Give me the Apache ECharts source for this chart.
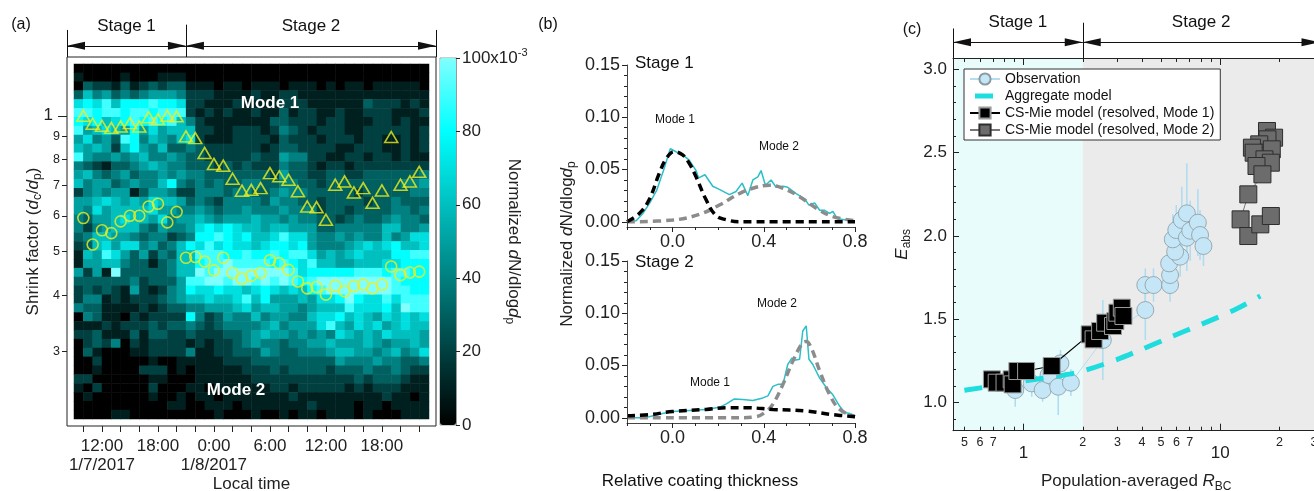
<!DOCTYPE html>
<html>
<head>
<meta charset="utf-8">
<title>Shrink factor, coating thickness and Eabs</title>
<script src="https://cdn.jsdelivr.net/npm/echarts@6.0.0/dist/echarts.min.js"></script>
<style>
  html, body { margin: 0; padding: 0; background: #fff; }
  #chart { width: 1314px; height: 491px; }
</style>
</head>
<body>
<div id="chart"></div>
<script>
var FONT = '"Liberation Sans", Arial, Helvetica, sans-serif';

// ---------------- (a) shrink factor map ----------------
// hour of day counted from 1/7/2017 0:00, start of each heatmap column
var heatHours = [9, 10, 11, 12, 13, 14, 15, 16, 17, 18, 19, 20, 21, 22, 23, 24, 25, 26, 27,
  28, 29, 30, 31, 32, 33, 34, 35, 36, 37, 38, 39, 40, 41, 42, 43, 44, 45, 46];
// normalized dN/dlogdp in steps of 10x10^-3 (a = 100), one row per shrink factor bin, top row first
var heatLevels = [
  '00000000000000000000000000000000000000',
  '10000100011100000000000000000000000000',
  '03221312323311101101110111010110111110',
  '36453434555422211112112211111111111111',
  '78796888988722111211112221111113222121',
  '99899899899921212112113122112112221112',
  '87867898989642111111133222122111221211',
  '95676585756662211222124321222112222212',
  '57453984654672111222213222122212211212',
  '65652685463343222222123322221122211212',
  '95445456445433222223225442211221221211',
  '43213345654433323232224332122122222222',
  '56434534454544333333325332233223333334',
  '64553454468434343344334433233333333445',
  '24545513554224443443345443333323333344',
  '55676565766534324444354433233332334333',
  '54756666755445434454445444233233334434',
  '43556766574556545556554544332343345443',
  '42456664354457878766566555334444466445',
  '34665543442348898786679775445454464577',
  '23675774534687978776788785444567678667',
  '16597535243669998898898997565676668899',
  '1556643313466899a999989879665566677888',
  '5251a33333466a9aaaaaaaa978888899989988',
  '33333342333599aa9aa9a9a989aaaaaaaa9888',
  '232321521245877877678767689aaaaaaa9988',
  '24412122234566766796855565778a87797999',
  '43311112123344555675665545666977786a99',
  '04311021222284235446455446778676576767',
  '11121222323343234444564555796576756766',
  '22311131332232223345655454547656576665',
  '02324021222212122345443445565556545565',
  '03100011222241122333543344456655456457',
  '00200000100111112223333333335444544334',
  '00100002220101111122232333323334334322',
  '22000000110001111112222222222232333211',
  '10200000200011011111122122222121222111',
  '01000000100101101111111211111111121101',
  '00000000001100111011111112111101101111',
  '00001100000000010001001011011101000111'
];
var modeHours = [10, 11, 12, 13, 14, 15, 16, 17, 18, 19, 20, 21, 22, 23, 24, 25, 26, 27, 28,
  29, 30, 31, 32, 33, 34, 35, 36, 37, 38, 39, 40, 41, 42, 43, 44, 45, 46];
var mode1Shrink = [1.00, 0.96, 0.95, 0.94, 0.947, 0.963, 0.947, 0.993, 0.983, 1.00, 0.997, 0.90,
  0.892, 0.827, 0.782, 0.775, 0.725, 0.682, 0.685, 0.691, 0.746, 0.734, 0.721, 0.680, 0.629,
  0.627, 0.588, 0.703, 0.715, 0.676, 0.691, 0.641, 0.683, 0.897, 0.703, 0.715, 0.751];
var mode2Shrink = [0.593, 0.518, 0.557, 0.549, 0.583, 0.600, 0.600, 0.629, 0.638, 0.580, 0.612,
  0.484, 0.486, 0.475, 0.454, 0.484, 0.448, 0.435, 0.442, 0.448, 0.478, 0.471, 0.455, 0.429,
  0.414, 0.417, 0.401, 0.420, 0.408, 0.419, 0.422, 0.414, 0.422, 0.463, 0.443, 0.449, 0.451];
var stageSplitHour = 21;
var timeTicks = [10, 12, 14, 16, 18, 20, 22, 24, 26, 28, 30, 32, 34, 36, 38, 40, 42, 44, 46];
var timeLabelHours = [12, 18, 24, 30, 36, 42];
var timeLabelDates = { 12: '1/7/2017', 24: '1/8/2017' };
var shrinkMajorTicks = [1];
var shrinkMinorTicks = [0.3, 0.4, 0.5, 0.6, 0.7, 0.8, 0.9];
var colorbarTicks = [0, 20, 40, 60, 80, 100];

// ---------------- (b) coating thickness distributions ----------------
var s1Observed = [[-0.20, 0.000], [-0.16, 0.001], [-0.13, 0.008], [-0.10, 0.018], [-0.07, 0.030],
  [-0.04, 0.049], [-0.01, 0.070], [0.015, 0.067], [0.044, 0.064], [0.073, 0.059], [0.103, 0.049],
  [0.114, 0.042], [0.142, 0.045], [0.176, 0.034], [0.205, 0.031], [0.249, 0.026], [0.278, 0.029],
  [0.305, 0.037], [0.330, 0.025], [0.352, 0.040], [0.374, 0.043], [0.388, 0.049], [0.407, 0.035],
  [0.432, 0.040], [0.454, 0.033], [0.484, 0.034], [0.505, 0.033], [0.542, 0.027], [0.579, 0.022],
  [0.598, 0.016], [0.623, 0.018], [0.645, 0.011], [0.667, 0.011], [0.689, 0.008], [0.703, 0.010],
  [0.722, 0.003], [0.755, 0.002], [0.80, 0.000]];
var s1Mode1Fit = [[-0.20, 0.000], [-0.146, 0.008], [-0.103, 0.021], [-0.059, 0.046], [-0.029, 0.060],
  [0.007, 0.067], [0.044, 0.064], [0.073, 0.056], [0.103, 0.043], [0.147, 0.021], [0.19, 0.006],
  [0.234, 0.002], [0.293, 0.000], [0.80, 0.000]];
var s1Mode2Fit = [[-0.20, 0.000], [0.0, 0.0016], [0.117, 0.007], [0.205, 0.016], [0.293, 0.027],
  [0.366, 0.033], [0.425, 0.035], [0.484, 0.032], [0.557, 0.024], [0.63, 0.013], [0.703, 0.005],
  [0.80, 0.001]];
var s2Observed = [[-0.20, 0.000], [-0.146, 0.000], [-0.103, 0.001], [-0.044, 0.004], [0.0, 0.006],
  [0.073, 0.007], [0.147, 0.008], [0.205, 0.010], [0.234, 0.013], [0.271, 0.018], [0.308, 0.0175],
  [0.352, 0.0166], [0.396, 0.019], [0.418, 0.021], [0.44, 0.030], [0.462, 0.032], [0.484, 0.032],
  [0.505, 0.051], [0.523, 0.057], [0.535, 0.055], [0.557, 0.056], [0.571, 0.083], [0.586, 0.088],
  [0.598, 0.056], [0.615, 0.051], [0.645, 0.038], [0.674, 0.029], [0.703, 0.022], [0.733, 0.011],
  [0.755, 0.005], [0.777, 0.004], [0.80, 0.002]];
var s2Mode1Fit = [[-0.20, 0.002], [-0.10, 0.003], [0.0, 0.006], [0.147, 0.008], [0.234, 0.0096],
  [0.322, 0.0096], [0.44, 0.008], [0.586, 0.0064], [0.703, 0.003], [0.80, 0.001]];
var s2Mode2Fit = [[-0.20, 0.000], [0.293, 0.000], [0.366, 0.001], [0.41, 0.006], [0.44, 0.013],
  [0.484, 0.032], [0.527, 0.054], [0.571, 0.072], [0.586, 0.073], [0.608, 0.067], [0.645, 0.045],
  [0.689, 0.022], [0.733, 0.008], [0.80, 0.001]];
var coatMajorTicks = [0, 0.4, 0.8];
var coatMinorTicks = [-0.2, -0.1, 0.1, 0.2, 0.3, 0.5, 0.6, 0.7];
var dndMajorTicks = [0, 0.05, 0.10, 0.15];
var dndMinorTicks = [0.01, 0.02, 0.03, 0.04, 0.06, 0.07, 0.08, 0.09, 0.11, 0.12, 0.13, 0.14];

// ---------------- (c) Eabs vs RBC ----------------
var obsRbc = [0.907, 1.10, 1.25, 1.34, 1.50, 1.54, 1.74, 2.53, 4.16, 4.16, 4.58, 5.56, 5.56, 5.50,
  6.26, 5.90, 5.74, 5.98, 6.77, 6.38, 6.77, 7.04, 7.70, 7.90, 8.22];
var obsEabs = [1.076, 1.116, 1.076, 1.166, 1.096, 1.236, 1.120, 1.376, 1.556, 1.706, 1.706, 1.706,
  1.766, 1.836, 1.876, 1.906, 1.980, 2.036, 1.990, 2.096, 2.136, 2.032, 2.080, 2.006, 1.940];
var obsErr = [0.10, 0.08, 0.07, 0.09, 0.17, 0.08, 0.08, 0.24, 0.18, 0.10, 0.10, 0.10, 0.10, 0.10,
  0.12, 0.12, 0.15, 0.15, 0.20, 0.20, 0.30, 0.18, 0.20, 0.15, 0.12];
var aggModel = [[0.5, 1.075], [0.7, 1.10], [1.0, 1.13], [1.5, 1.16], [2.0, 1.19], [3.0, 1.26],
  [4.0, 1.32], [5.5, 1.39], [8.0, 1.47], [12, 1.56], [16, 1.64]];
var mieMode1 = [[0.69, 1.14], [0.73, 1.12], [0.80, 1.12], [0.87, 1.14], [0.88, 1.11], [0.93, 1.19],
  [1.03, 1.19], [1.39, 1.22], [2.17, 1.41], [2.27, 1.38], [2.45, 1.43], [2.60, 1.48], [2.85, 1.46],
  [2.93, 1.49], [3.00, 1.54], [3.16, 1.57], [3.22, 1.52]];
var mieMode2 = [[17.3, 2.63], [18.8, 2.59], [17.4, 2.58], [15.8, 2.55], [17.0, 2.50], [14.5, 2.53],
  [16.0, 2.48], [14.8, 2.50], [18.3, 2.52], [16.8, 2.46], [18.1, 2.44], [15.3, 2.42], [16.4, 2.37],
  [13.9, 2.25], [12.7, 2.10], [13.9, 2.00], [16.0, 2.07], [18.1, 2.12]];
var rbcStageSplit = 2;
var rbcMajorTicks = [1, 10];
var rbcMinorTicks = [0.5, 0.6, 0.7, 0.8, 0.9, 2, 3, 4, 5, 6, 7, 8, 9, 20, 30];
var rbcMinorLabels = [0.5, 0.6, 0.7, 2, 3, 4, 5, 6, 7, 20, 30];
var eMajorTicks = [1.0, 1.5, 2.0, 2.5, 3.0];
var eMinorTicks = [0.9, 1.1, 1.2, 1.3, 1.4, 1.6, 1.7, 1.8, 1.9, 2.1, 2.2, 2.3, 2.4, 2.6, 2.7, 2.8, 2.9];

// axis ranges
var A_TMIN = 8.25, A_TMAX = 47.8, A_SMIN = 0.205, A_SMAX = 1.35;
var B_XMIN = -0.2, B_XMAX = 0.8, B_YMIN = -0.005, B_YMAX = 0.15;
var C_XMIN = 0.4375, C_XMAX = 32, C_YMIN = 0.832, C_YMAX = 3.068;

// ---------------- helpers ----------------
var heatData = [];
heatLevels.forEach(function (row, r) {
  for (var c = 0; c < row.length; c++) {
    var ch = row.charAt(c);
    heatData.push([c, r, (ch === 'a' ? 10 : Number(ch)) * 10]);
  }
});
var heatRows = heatLevels.map(function (row, i) { return i; });

function timeLabel(h) {
  var clock = (h % 24) + ':00';
  return timeLabelDates[h] ? clock + '\n' + timeLabelDates[h] : clock;
}
function leadDigit(v) {
  var p = Math.pow(10, Math.floor(Math.log10(v) + 1e-9));
  return String(Math.round(v / p));
}
function richName(size) {
  return {
    i: { fontStyle: 'italic', fontSize: size, fontFamily: FONT, color: '#222' },
    sub: { fontSize: Math.round(size * 0.7), fontFamily: FONT, color: '#222', verticalAlign: 'bottom', lineHeight: 13 }
  };
}
var tickLine = { color: '#222', width: 1 };

// one axis that only draws ticks (and optional labels) at given values
function tickAxis(o) {
  var ax = {
    type: o.type || 'value', gridIndex: o.grid, min: o.min, max: o.max, position: o.position,
    z: 10,
    axisLine: { show: !!o.line, onZero: false, lineStyle: { color: o.lineColor || '#222', width: 1 } },
    axisTick: { show: true, inside: !!o.inside, customValues: o.ticks, length: o.len, lineStyle: tickLine },
    axisLabel: o.labels ? {
      customValues: o.labels, formatter: o.fmt, fontSize: o.fontSize, margin: o.margin,
      color: '#222', fontFamily: FONT, lineHeight: o.lineHeight, rich: o.rich
    } : { show: false },
    splitLine: { show: false },
    axisPointer: { show: false }
  };
  if (o.name) {
    ax.name = o.name;
    ax.nameLocation = 'middle';
    ax.nameGap = o.nameGap;
    ax.nameRotate = o.nameRotate;
    ax.nameMoveOverlap = false;
    ax.nameTextStyle = { fontSize: 17, color: '#222', fontFamily: FONT, lineHeight: 22, rich: richName(17) };
  }
  return ax;
}
function hiddenAxis(type, grid, min, max) {
  return { type: type, gridIndex: grid, min: min, max: max, show: false };
}

// double arrow bracket with the two stage names
function stageBracket(xi, yi, x0, xb, x1, arrowY) {
  return {
    type: 'line', xAxisIndex: xi, yAxisIndex: yi, data: [], silent: true,
    markLine: {
      silent: true, animation: false,
      symbol: ['triangle', 'triangle'], symbolSize: [8, 18], symbolOffset: [[0, 9], [0, 9]],
      lineStyle: { color: '#111', width: 1, type: 'solid' },
      emphasis: { disabled: true },
      label: { show: true, position: 'insideMiddleTop', distance: 11, formatter: '{b}', fontSize: 17, color: '#111', fontFamily: FONT },
      data: [
        [{ name: 'Stage 1', coord: [x0, arrowY] }, { coord: [xb, arrowY] }],
        [{ name: 'Stage 2', coord: [xb, arrowY] }, { coord: [x1, arrowY] }],
        [{ coord: [x0, 0], symbol: 'none', label: { show: false } }, { coord: [x0, 0.82], symbol: 'none' }],
        [{ coord: [xb, 0], symbol: 'none', label: { show: false } }, { coord: [xb, 0.98], symbol: 'none' }],
        [{ coord: [x1, 0], symbol: 'none', label: { show: false } }, { coord: [x1, 0.82], symbol: 'none' }]
      ]
    }
  };
}
function lineSeries(xi, yi, data, color, width, dash, smooth) {
  return {
    type: 'line', xAxisIndex: xi, yAxisIndex: yi, data: data, symbol: 'none', silent: true,
    smooth: smooth, lineStyle: { color: color, width: width, type: dash || 'solid' }, z: 3
  };
}
function txt(s, x, y, size, extra) {
  return {
    type: 'text', x: x, y: y, z: 100, silent: true,
    style: Object.assign({ text: s, fill: '#111', fontSize: size, fontFamily: FONT, align: 'center', verticalAlign: 'middle' }, extra || {})
  };
}

var chart = echarts.init(document.getElementById('chart'));

var option = {
  animation: false,
  textStyle: { fontFamily: FONT },
  grid: [
    { left: 74, top: 64, width: 355, height: 355, outerBoundsMode: 'none' },
    { left: 67, top: 57, width: 369, height: 369, show: true, borderColor: '#222', borderWidth: 1, backgroundColor: 'transparent', outerBoundsMode: 'none' },
    { left: 440, top: 58, width: 16, height: 367, show: true, borderColor: '#999', borderWidth: 1, outerBoundsMode: 'none' },
    { left: 67, top: 24, width: 369, height: 33, outerBoundsMode: 'none' },
    { left: 627, top: 65, width: 228, height: 162, outerBoundsMode: 'none' },
    { left: 627, top: 261, width: 228, height: 162, outerBoundsMode: 'none' },
    { left: 953, top: 58, width: 366.5, height: 372.7, outerBoundsMode: 'none' },
    { left: 953, top: 22, width: 366.5, height: 36, outerBoundsMode: 'none' }
  ],
  xAxis: [
    { type: 'category', gridIndex: 0, data: heatHours, show: false },
    tickAxis({ grid: 1, min: A_TMIN, max: A_TMAX, position: 'bottom', ticks: timeTicks, len: 6,
      labels: timeLabelHours, fmt: timeLabel, fontSize: 17, margin: 11, lineHeight: 19,
      name: 'Local time', nameGap: 47 }),
    hiddenAxis('value', 2, 0, 1),
    hiddenAxis('value', 3, A_TMIN, A_TMAX),
    tickAxis({ grid: 4, min: B_XMIN, max: B_XMAX, position: 'bottom', line: true, lineColor: '#444', ticks: coatMajorTicks, len: 5,
      labels: coatMajorTicks, fmt: function (v) { return v.toFixed(1); }, fontSize: 18, margin: 6 }),
    tickAxis({ grid: 4, min: B_XMIN, max: B_XMAX, position: 'bottom', ticks: coatMinorTicks, len: 3 }),
    tickAxis({ grid: 5, min: B_XMIN, max: B_XMAX, position: 'bottom', line: true, lineColor: '#444', ticks: coatMajorTicks, len: 5,
      labels: coatMajorTicks, fmt: function (v) { return v.toFixed(1); }, fontSize: 18, margin: 6 }),
    tickAxis({ grid: 5, min: B_XMIN, max: B_XMAX, position: 'bottom', ticks: coatMinorTicks, len: 3 }),
    tickAxis({ type: 'log', grid: 6, min: C_XMIN, max: C_XMAX, position: 'bottom', line: true, inside: true,
      ticks: rbcMajorTicks, len: 7, labels: rbcMajorTicks, fmt: function (v) { return String(Math.round(v)); },
      fontSize: 17, margin: 14, name: 'Population-averaged {i|R}{sub|BC}', nameGap: 40 }),
    tickAxis({ type: 'log', grid: 6, min: C_XMIN, max: C_XMAX, position: 'bottom', inside: true,
      ticks: rbcMinorTicks, len: 4, labels: rbcMinorLabels, fmt: leadDigit, fontSize: 12.5, margin: 5 }),
    tickAxis({ type: 'log', grid: 6, min: C_XMIN, max: C_XMAX, position: 'top', line: true, inside: true,
      ticks: rbcMajorTicks, len: 7 }),
    tickAxis({ type: 'log', grid: 6, min: C_XMIN, max: C_XMAX, position: 'top', inside: true,
      ticks: rbcMinorTicks, len: 4 }),
    hiddenAxis('log', 7, C_XMIN, C_XMAX)
  ],
  yAxis: [
    { type: 'category', gridIndex: 0, data: heatRows, inverse: true, show: false },
    tickAxis({ type: 'log', grid: 1, min: A_SMIN, max: A_SMAX, position: 'left', ticks: shrinkMajorTicks, len: 9,
      labels: shrinkMajorTicks, fmt: function () { return '1'; }, fontSize: 17, margin: 14,
      name: 'Shrink factor ({i|d}{sub|c}/{i|d}{sub|p})', nameGap: 23 }),
    tickAxis({ type: 'log', grid: 1, min: A_SMIN, max: A_SMAX, position: 'left', ticks: shrinkMinorTicks, len: 5,
      labels: shrinkMinorTicks, fmt: function (v) { return String(Math.round(v * 10)); }, fontSize: 12.5, margin: 7 }),
    tickAxis({ grid: 2, min: 0, max: 100, position: 'right', line: true, lineColor: '#999', ticks: colorbarTicks, len: 4,
      labels: colorbarTicks, fmt: function (v) { return v === 100 ? '100x10{sup|-3}' : String(v); },
      fontSize: 17, margin: 6, lineHeight: 22,
      rich: { sup: { fontSize: 11, fontFamily: FONT, color: '#222', verticalAlign: 'top', lineHeight: 12 } },
      name: 'Normalized {i|d}N/dlog{i|d}{sub|p}', nameGap: 47, nameRotate: -90 }),
    hiddenAxis('value', 3, 0, 1),
    tickAxis({ grid: 4, min: B_YMIN, max: B_YMAX, position: 'left', line: true, lineColor: '#444', ticks: dndMajorTicks, len: 5,
      labels: dndMajorTicks, fmt: function (v) { return v.toFixed(2); }, fontSize: 18, margin: 7 }),
    tickAxis({ grid: 4, min: B_YMIN, max: B_YMAX, position: 'left', ticks: dndMinorTicks, len: 3 }),
    tickAxis({ grid: 5, min: B_YMIN, max: B_YMAX, position: 'left', line: true, lineColor: '#444', ticks: dndMajorTicks, len: 5,
      labels: dndMajorTicks, fmt: function (v) { return v.toFixed(2); }, fontSize: 18, margin: 7 }),
    tickAxis({ grid: 5, min: B_YMIN, max: B_YMAX, position: 'left', ticks: dndMinorTicks, len: 3 }),
    tickAxis({ grid: 6, min: C_YMIN, max: C_YMAX, position: 'left', line: true, inside: true, ticks: eMajorTicks, len: 6,
      labels: eMajorTicks, fmt: function (v) { return v.toFixed(1); }, fontSize: 17, margin: 6,
      name: '{i|E}{sub|abs}', nameGap: 40 }),
    tickAxis({ grid: 6, min: C_YMIN, max: C_YMAX, position: 'left', inside: true, ticks: eMinorTicks, len: 3 }),
    hiddenAxis('value', 7, 0, 1)
  ],
  visualMap: {
    type: 'continuous', seriesIndex: 0, min: 0, max: 100, calculable: false, hoverLink: false,
    orient: 'vertical', left: 440, top: 58, itemWidth: 16, itemHeight: 367, padding: 0,
    inRange: { color: ['#000000', '#004040', '#008080', '#00bfbf', '#00ffff', '#80ffff'] }
  },
  legend: {
    orient: 'vertical', left: 964, top: 69, selectedMode: false,
    data: [
      'Observation',
      // a single thick cyan dash, no marker
      { name: 'Aggregate model', icon: 'path://M0,0M30,14M5,4.5h18v5h-18z' },
      'CS-Mie model (resolved, Mode 1)',
      'CS-Mie model (resolved, Mode 2)'
    ],
    itemWidth: 30, itemHeight: 14, itemGap: 3, padding: [3, 6, 3, 5],
    backgroundColor: '#fff', borderColor: '#333', borderWidth: 1,
    textStyle: { fontSize: 14, color: '#111', fontFamily: FONT }
  },
  series: [
    { type: 'heatmap', xAxisIndex: 0, yAxisIndex: 0, data: heatData, silent: true, z: 1 },
    { type: 'scatter', xAxisIndex: 1, yAxisIndex: 1, silent: true, z: 3,
      data: modeHours.map(function (h, i) { return [h, mode1Shrink[i]]; }),
      symbol: 'triangle', symbolSize: [13, 11],
      itemStyle: { color: 'rgba(0,0,0,0)', borderColor: '#efef1c', borderWidth: 1.6 } },
    { type: 'scatter', xAxisIndex: 1, yAxisIndex: 1, silent: true, z: 3,
      data: modeHours.map(function (h, i) { return [h, mode2Shrink[i]]; }),
      symbol: 'circle', symbolSize: 11,
      itemStyle: { color: 'rgba(0,0,0,0)', borderColor: '#efef1c', borderWidth: 1.6 } },
    stageBracket(3, 4, A_TMIN, stageSplitHour, A_TMAX, 0.34),

    lineSeries(4, 5, s1Observed, '#2bbfc9', 1.5),
    lineSeries(4, 5, s1Mode2Fit, '#8c8c8c', 3.5, [8, 5], 0.4),
    lineSeries(4, 5, s1Mode1Fit, '#000000', 3.5, [8, 5], 0.4),
    lineSeries(6, 7, s2Observed, '#2bbfc9', 1.5),
    lineSeries(6, 7, s2Mode2Fit, '#8c8c8c', 3.5, [8, 5], 0.4),
    lineSeries(6, 7, s2Mode1Fit, '#000000', 3.5, [8, 5], 0.4),

    { type: 'custom', name: 'obsErr', xAxisIndex: 8, yAxisIndex: 9, silent: true, z: 2,
      data: obsRbc.map(function (r, i) { return [r, obsEabs[i] - obsErr[i], obsEabs[i] + obsErr[i]]; }),
      encode: { x: 0, y: [1, 2] },
      renderItem: function (params, api) {
        var p1 = api.coord([api.value(0), api.value(1)]);
        var p2 = api.coord([api.value(0), api.value(2)]);
        return { type: 'line', shape: { x1: p1[0], y1: p1[1], x2: p2[0], y2: p2[1] },
          style: { stroke: '#acdcf1', lineWidth: 1.5 } };
      } },
    { type: 'line', name: 'Observation', xAxisIndex: 8, yAxisIndex: 9, silent: true, z: 3,
      data: obsRbc.map(function (r, i) { return [r, obsEabs[i]]; }),
      symbol: 'circle', symbolSize: 17, showSymbol: true,
      lineStyle: { color: '#b3def2', width: 1 },
      itemStyle: { color: '#c4e6f6', borderColor: '#8b9aa2', borderWidth: 0.8 } },
    { type: 'line', name: 'Aggregate model', xAxisIndex: 8, yAxisIndex: 9, silent: true, z: 4,
      data: aggModel, symbol: 'none', smooth: 0.3,
      lineStyle: { color: '#1fdcdf', width: 5, type: [18, 13] },
      itemStyle: { color: '#1fdcdf' },
      markArea: { silent: true, data: [
        [{ xAxis: C_XMIN, itemStyle: { color: '#e8fcfc' } }, { xAxis: rbcStageSplit }],
        [{ xAxis: rbcStageSplit, itemStyle: { color: '#ebebeb' } }, { xAxis: C_XMAX }]
      ] } },
    { type: 'line', name: 'CS-Mie model (resolved, Mode 1)', xAxisIndex: 8, yAxisIndex: 9, silent: true, z: 5,
      data: mieMode1, symbol: 'rect', symbolSize: 17,
      lineStyle: { color: '#000', width: 1.2 },
      itemStyle: { color: '#000', borderColor: '#9b9b9b', borderWidth: 1 } },
    { type: 'line', name: 'CS-Mie model (resolved, Mode 2)', xAxisIndex: 8, yAxisIndex: 9, silent: true, z: 5,
      data: mieMode2, symbol: 'rect', symbolSize: 17,
      lineStyle: { color: '#777', width: 1 },
      itemStyle: { color: '#6c6c6c', borderColor: '#2e2e2e', borderWidth: 1 } },
    stageBracket(12, 11, C_XMIN, rbcStageSplit, C_XMAX, 0.44)
  ],
  graphic: { elements: [
    txt('(a)', 21, 25, 16),
    txt('(b)', 548, 25, 16),
    txt('(c)', 912, 30, 16),
    txt('Mode 1', 270, 103, 17, { fill: '#fff', fontWeight: 'bold' }),
    txt('Mode 2', 236, 390, 17, { fill: '#fff', fontWeight: 'bold' }),
    txt('Stage 1', 635, 63, 17, { align: 'left' }),
    txt('Stage 2', 635, 262, 17, { align: 'left' }),
    txt('Mode 1', 675, 120, 12),
    txt('Mode 2', 779, 147, 12),
    txt('Mode 2', 777, 304, 12),
    txt('Mode 1', 710, 383, 12),
    txt('Relative coating thickness', 700, 481, 17),
    {
      type: 'text', x: 567, y: 244, rotation: Math.PI / 2, z: 100, silent: true,
      style: {
        text: 'Normalized {i|d}N/dlog{i|d}{sub|p}', fill: '#222', fontSize: 17, fontFamily: FONT,
        align: 'center', verticalAlign: 'middle', lineHeight: 22,
        rich: {
          i: { fontStyle: 'italic', fontSize: 17, fontFamily: FONT, fill: '#222' },
          sub: { fontSize: 12, fontFamily: FONT, fill: '#222', verticalAlign: 'bottom', lineHeight: 13 }
        }
      }
    }
  ] }
};

chart.setOption(option);
</script>
</body>
</html>
